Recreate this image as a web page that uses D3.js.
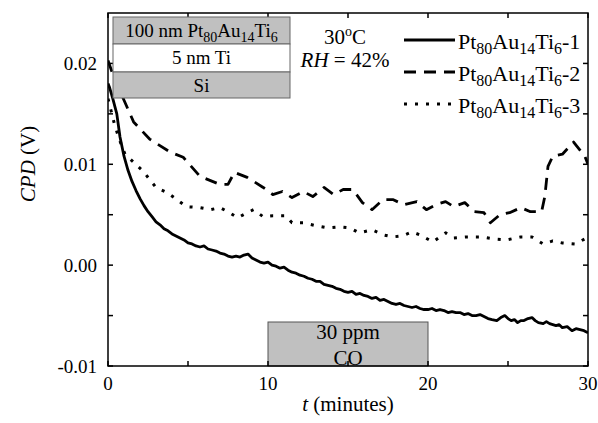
<!DOCTYPE html>
<html>
<head>
<meta charset="utf-8">
<script src="https://cdn.jsdelivr.net/npm/d3@7"></script>
<style>
  html, body { margin: 0; padding: 0; background: #fff; }
</style>
</head>
<body>
<div id="chart"></div>
<script>
// series 1 (solid), 2 (dashed), 3 (dotted): [t in minutes, CPD in V]
const series1 = [
  [0, 0.0180], [0.1, 0.0176], [0.3, 0.0165], [0.55, 0.0150], [0.75, 0.0127], [1.0, 0.0108],
  [1.25, 0.0094], [1.5, 0.0083], [1.75, 0.0074], [2.0, 0.0066], [2.25, 0.0059], [2.5, 0.0053],
  [2.75, 0.0048], [3.0, 0.0043], [3.25, 0.0040], [3.5, 0.0036], [3.75, 0.0034], [4.0, 0.0031],
  [4.25, 0.0029], [4.5, 0.0027], [4.75, 0.0025], [5.0, 0.0022], [5.25, 0.0021], [5.5, 0.0019],
  [5.75, 0.0018], [6.0, 0.0019], [6.25, 0.0016], [6.5, 0.0015], [6.75, 0.0014], [7.0, 0.0012],
  [7.25, 0.0011], [7.5, 0.0009], [7.75, 0.0008], [8.0, 0.0009], [8.25, 0.0008], [8.5, 0.0010],
  [8.75, 0.0011], [9.0, 0.0007], [9.25, 0.0005], [9.5, 0.0003], [9.75, 0.0002], [10.0, 0.0003],
  [10.25, 0.0000], [10.5, -0.0001], [10.75, -0.0003], [11.0, -0.0002], [11.25, -0.0005],
  [11.5, -0.0007], [11.75, -0.0008], [12.0, -0.0010], [12.25, -0.0011], [12.5, -0.0013],
  [12.75, -0.0014], [13.0, -0.0016], [13.25, -0.0016], [13.5, -0.0019], [13.75, -0.0020],
  [14.0, -0.0021], [14.25, -0.0023], [14.5, -0.0024], [14.75, -0.0026], [15.0, -0.0027],
  [15.25, -0.0026], [15.5, -0.0029], [15.75, -0.0028], [16.0, -0.0030], [16.25, -0.0031],
  [16.5, -0.0033], [16.75, -0.0032], [17.0, -0.0035], [17.25, -0.0034], [17.5, -0.0036],
  [17.75, -0.0038], [18.0, -0.0039], [18.25, -0.0038], [18.5, -0.0040], [18.75, -0.0041],
  [19.0, -0.0042], [19.25, -0.0041], [19.5, -0.0043], [19.75, -0.0044], [20.0, -0.0044],
  [20.25, -0.0043], [20.5, -0.0045], [20.75, -0.0044], [21.0, -0.0045], [21.25, -0.0047],
  [21.5, -0.0046], [21.75, -0.0047], [22.0, -0.0047], [22.25, -0.0049], [22.5, -0.0048],
  [22.75, -0.0050], [23.0, -0.0050], [23.25, -0.0049], [23.5, -0.0051], [23.75, -0.0053],
  [24.0, -0.0054], [24.3, -0.0055], [24.55, -0.0052], [24.8, -0.0050], [25.0, -0.0053],
  [25.2, -0.0055], [25.4, -0.0054], [25.6, -0.0057], [25.8, -0.0055], [26.0, -0.0055],
  [26.25, -0.0053], [26.5, -0.0052], [26.7, -0.0055], [26.9, -0.0057], [27.2, -0.0058],
  [27.4, -0.0056], [27.6, -0.0058], [27.8, -0.0059], [28.0, -0.0060], [28.2, -0.0059],
  [28.4, -0.0062], [28.7, -0.0061], [29.0, -0.0065], [29.25, -0.0063], [29.5, -0.0064],
  [29.75, -0.0065], [30.0, -0.0067]
];
const series2 = [
  [0, 0.0203], [0.5, 0.0180], [0.96, 0.0165], [1.6, 0.0142], [2.6, 0.0125], [3.9, 0.0112],
  [4.7, 0.0107], [5.75, 0.0088], [7.0, 0.0080], [7.5, 0.0080], [7.9, 0.0092], [8.7, 0.0087],
  [9.7, 0.0077], [10.3, 0.0070], [10.9, 0.0073], [11.5, 0.0067], [12.2, 0.0073], [12.8, 0.0068],
  [13.5, 0.0077], [14.1, 0.0070], [14.7, 0.0075], [15.3, 0.0075], [15.9, 0.0062], [16.5, 0.0055],
  [17.2, 0.0065], [17.8, 0.0065], [18.5, 0.0060], [19.3, 0.0063], [19.9, 0.0055], [20.5, 0.0060],
  [21.1, 0.0063], [21.6, 0.0058], [22.3, 0.0062], [22.9, 0.0053], [23.5, 0.0052], [23.9, 0.0042],
  [24.5, 0.0050], [25.1, 0.0052], [25.8, 0.0057], [26.4, 0.0053], [27.1, 0.0053], [27.3, 0.0068],
  [27.5, 0.0098], [27.8, 0.0108], [28.4, 0.0110], [29.1, 0.0122], [29.8, 0.0108], [30.0, 0.0100]
];
const series3 = [
  [0, 0.0165], [0.4, 0.0140], [0.7, 0.0125], [1.06, 0.0110], [1.6, 0.0102], [2.2, 0.0093],
  [3.0, 0.0077], [3.7, 0.0072], [4.3, 0.0065], [4.9, 0.0058], [5.75, 0.0057], [6.4, 0.0055],
  [7.0, 0.0057], [7.6, 0.0052], [8.1, 0.0047], [8.7, 0.0052], [9.1, 0.0055], [9.7, 0.0048],
  [10.3, 0.0049], [11.1, 0.0049], [11.5, 0.0042], [12.2, 0.0042], [13.0, 0.0039], [13.7, 0.0037],
  [14.5, 0.0038], [15.1, 0.0037], [15.7, 0.0032], [16.5, 0.0035], [17.2, 0.0030], [17.8, 0.0028],
  [18.4, 0.0029], [19.0, 0.0033], [19.5, 0.0030], [20.3, 0.0023], [21.1, 0.0032], [21.6, 0.0027],
  [22.4, 0.0028], [23.3, 0.0028], [24.1, 0.0026], [24.9, 0.0025], [25.8, 0.0028], [26.5, 0.0028],
  [27.2, 0.0021], [27.8, 0.0024], [28.4, 0.0022], [29.2, 0.0021], [29.8, 0.0026], [30.0, 0.0027]
];
const seriesNames = ["-1", "-2", "-3"];
const xTicks = [0, 10, 20, 30];
const xMinor = [5, 15, 25];
const yTicks = [-0.01, 0.00, 0.01, 0.02];
const yMinor = [-0.005, 0.005, 0.015];
const yTickLabels = ["-0.01", "0.00", "0.01", "0.02"];
const coWindow = [10, 20];
const layers = ["100 nm Pt|80|Au|14|Ti|6", "5 nm Ti", "Si"];

const W = 598, H = 423;
const svg = d3.select("#chart").append("svg")
  .attr("width", W).attr("height", H)
  .attr("font-family", "'Liberation Serif', 'Times New Roman', Times, serif")
  .style("display", "block");

const x = d3.scaleLinear().domain([0, 30]).range([108, 588]);
const y = d3.scaleLinear().domain([-0.01, 0.025]).range([366, 13]);

const font = 19, bigFont = 21;

// writes text with alternating normal / subscript parts, split on "|"
function formula(sel, str, size, subSize) {
  const parts = str.split("|");
  parts.forEach((p, i) => {
    const sub = i % 2 === 1;
    const prevSub = i > 0 && (i - 1) % 2 === 1;
    sel.append("tspan")
      .attr("font-size", sub ? subSize : size)
      .attr("dy", sub ? 5 : (prevSub ? -5 : 0))
      .text(p);
  });
}

svg.append("clipPath").attr("id", "plot-clip")
  .append("rect")
  .attr("x", x(0)).attr("y", y(0.025))
  .attr("width", x(30) - x(0)).attr("height", y(-0.01) - y(0.025));

// CO exposure box
svg.append("rect")
  .attr("x", x(coWindow[0])).attr("y", 322)
  .attr("width", x(coWindow[1]) - x(coWindow[0])).attr("height", y(-0.01) - 322)
  .attr("fill", "#c0c0c0").attr("stroke", "#555").attr("stroke-width", 1);
svg.append("text").attr("x", x(15)).attr("y", 339).attr("text-anchor", "middle")
  .attr("font-size", bigFont).text("30 ppm");
svg.append("text").attr("x", x(15)).attr("y", 365).attr("text-anchor", "middle")
  .attr("font-size", bigFont).text("CO");

const line = d3.line().x(d => x(d[0])).y(d => y(d[1]));
const styles = [
  { dash: null, width: 2.8 },
  { dash: "12,8", width: 2.8 },
  { dash: "3,8", width: 3 }
];

const curves = svg.append("g").attr("clip-path", "url(#plot-clip)");
[series1, series2, series3].forEach((s, i) => {
  curves.append("path")
    .datum(s)
    .attr("d", line)
    .attr("fill", "none")
    .attr("stroke", "#000")
    .attr("stroke-width", styles[i].width)
    .attr("stroke-dasharray", styles[i].dash)
    .attr("stroke-linejoin", "round");
});

// frame + inward ticks on all four sides
const axes = svg.append("g").attr("stroke", "#000").attr("stroke-width", 1.5);
axes.append("rect")
  .attr("x", x(0)).attr("y", y(0.025))
  .attr("width", x(30) - x(0)).attr("height", y(-0.01) - y(0.025))
  .attr("fill", "none");
const tl = 5;
xTicks.concat(xMinor).forEach(t => {
  axes.append("line").attr("x1", x(t)).attr("x2", x(t)).attr("y1", y(-0.01)).attr("y2", y(-0.01) - tl);
  axes.append("line").attr("x1", x(t)).attr("x2", x(t)).attr("y1", y(0.025)).attr("y2", y(0.025) + tl);
});
yTicks.concat(yMinor).forEach(v => {
  axes.append("line").attr("x1", x(0)).attr("x2", x(0) + tl).attr("y1", y(v)).attr("y2", y(v));
  axes.append("line").attr("x1", x(30)).attr("x2", x(30) - tl).attr("y1", y(v)).attr("y2", y(v));
});

svg.append("g").selectAll("text").data(xTicks).join("text")
  .attr("x", d => x(d)).attr("y", 390)
  .attr("text-anchor", "middle").attr("font-size", font)
  .text(d => d);
svg.append("g").selectAll("text").data(yTicks).join("text")
  .attr("x", 97).attr("y", d => y(d) + 7)
  .attr("text-anchor", "end").attr("font-size", font)
  .text((d, i) => yTickLabels[i]);

const xl = svg.append("text").attr("x", x(15)).attr("y", 411)
  .attr("text-anchor", "middle").attr("font-size", bigFont);
xl.append("tspan").attr("font-style", "italic").text("t");
xl.append("tspan").text(" (minutes)");

const yl = svg.append("text").attr("transform", "translate(35,164) rotate(-90)")
  .attr("text-anchor", "middle").attr("font-size", bigFont);
yl.append("tspan").attr("font-style", "italic").text("CPD");
yl.append("tspan").text(" (V)");

// sample stack box
const bx = 113, bw = 177, rows = [17, 44, 72, 98];
layers.forEach((l, i) => {
  svg.append("rect")
    .attr("x", bx).attr("y", rows[i])
    .attr("width", bw).attr("height", rows[i + 1] - rows[i])
    .attr("fill", i === 1 ? "#fff" : "#c0c0c0")
    .attr("stroke", "#666").attr("stroke-width", 1);
  const t = svg.append("text").attr("x", bx + bw / 2).attr("y", rows[i] + 20)
    .attr("text-anchor", "middle").attr("font-size", font);
  formula(t, l, font, 14);
});

// conditions
svg.append("text").attr("x", 345).attr("y", 44).attr("text-anchor", "middle")
  .attr("font-size", bigFont)
  .call(t => {
    t.append("tspan").text("30");
    t.append("tspan").attr("font-size", 14).attr("dy", -8).text("o");
    t.append("tspan").attr("dy", 8).text("C");
  });
svg.append("text").attr("x", 345).attr("y", 67).attr("text-anchor", "middle")
  .attr("font-size", bigFont)
  .call(t => {
    t.append("tspan").attr("font-style", "italic").text("RH");
    t.append("tspan").text(" = 42%");
  });

// legend
const legY = [40, 72, 104];
seriesNames.forEach((n, i) => {
  svg.append("line")
    .attr("x1", 404).attr("x2", 455).attr("y1", legY[i]).attr("y2", legY[i])
    .attr("stroke", "#000").attr("stroke-width", styles[i].width)
    .attr("stroke-dasharray", styles[i].dash);
  const t = svg.append("text").attr("x", 458).attr("y", legY[i] + 9)
    .attr("font-size", 22);
  formula(t, "Pt|80|Au|14|Ti|6|" + n, 22, 16);
});
</script>
</body>
</html>
